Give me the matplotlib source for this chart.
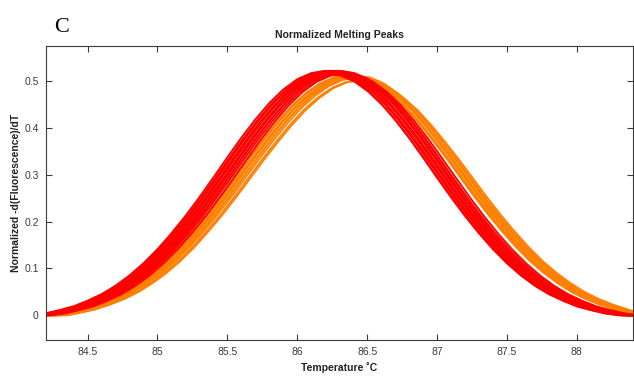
import matplotlib
matplotlib.use("Agg")
import matplotlib.pyplot as plt
import numpy as np

# temperature grid (deg C) shared by both profiles
temps = np.arange(84.0, 88.61, 0.1)

# red group: melting peak shape (peak near 86.3)
red_profile = [0.000, 0.000, 0.000, 0.004, 0.011, 0.019, 0.031, 0.045, 0.063, 0.085,
               0.111, 0.141, 0.175, 0.212, 0.252, 0.294, 0.337, 0.379, 0.418, 0.453,
               0.482, 0.504, 0.517, 0.522, 0.517, 0.504, 0.482, 0.453, 0.418, 0.379,
               0.337, 0.294, 0.252, 0.212, 0.175, 0.141, 0.111, 0.085, 0.063, 0.045,
               0.031, 0.019, 0.011, 0.004, 0.000, 0.000, 0.000]

# orange group: slightly lower, later peak (near 86.4)
orange_profile = [0.000, 0.000, 0.000, 0.000, 0.006, 0.013, 0.023, 0.035, 0.050, 0.069,
                  0.091, 0.117, 0.147, 0.181, 0.217, 0.256, 0.297, 0.338, 0.377, 0.414,
                  0.447, 0.474, 0.495, 0.508, 0.512, 0.508, 0.495, 0.474, 0.447, 0.414,
                  0.377, 0.338, 0.297, 0.256, 0.217, 0.181, 0.147, 0.117, 0.091, 0.069,
                  0.050, 0.035, 0.023, 0.013, 0.004, 0.000, 0.000]

# per-sample temperature offsets and height factors
red_shifts = [-0.12, -0.11, -0.10, -0.09, -0.08, -0.07, -0.06, -0.05, -0.04, -0.03, -0.02, -0.01, 0.00, 0.02]
red_scales = [1.00, 0.99, 1.00, 1.00, 0.99, 1.00, 1.00, 0.99, 1.00, 1.00, 0.99, 1.00, 0.99, 0.99]
orange_shifts = [-0.05, -0.04, -0.03, -0.02, -0.01, 0.00, 0.01, 0.02, 0.035, 0.05]
orange_scales = [1.00, 1.00, 0.99, 1.00, 1.00, 0.99, 1.00, 0.99, 0.98, 0.98]

red_c = "#ff0000"
orange_c = "#ff8000"
grey = "#3a3a3a"

plt.rcParams['font.family'] = ['Liberation Sans', 'DejaVu Sans']

fig = plt.figure(figsize=(6.34, 3.77), dpi=100)
ax = fig.add_axes([0.072, 0.098, 0.926, 0.780])

op = np.array(orange_profile)
for s, k in zip(orange_shifts, orange_scales):
    ax.plot(temps + s + 0.01, op * k, color=orange_c, lw=1.3, solid_capstyle='round')

rp = np.array(red_profile)
for s, k in zip(red_shifts, red_scales):
    ax.plot(temps + s + 0.02, rp * k, color=red_c, lw=1.4, solid_capstyle='round')

ax.set_xlim(84.2, 88.4)
ax.set_ylim(-0.053, 0.575)
ax.set_xticks([84.5, 85, 85.5, 86, 86.5, 87, 87.5, 88])
ax.set_xticklabels(["84.5", "85", "85.5", "86", "86.5", "87", "87.5", "88"])
ax.set_yticks([0, 0.1, 0.2, 0.3, 0.4, 0.5])
ax.set_yticklabels(["0", "0.1", "0.2", "0.3", "0.4", "0.5"])
ax.tick_params(direction='in', top=True, right=True, length=4, width=0.8,
               labelsize=7.5, labelcolor=grey, color=grey, pad=5)
for sp in ax.spines.values():
    sp.set_color(grey)
    sp.set_linewidth(0.8)

ax.set_title("Normalized Melting Peaks", fontsize=7.5, fontweight='bold', color="#222222", pad=6)
ax.set_xlabel("Temperature \u02daC", fontsize=7.5, fontweight='bold', color="#222222", labelpad=4)
ax.set_ylabel("Normalized -d(Fluorescence)/dT", fontsize=7.5, fontweight='bold', color="#222222", labelpad=2)

fig.text(0.085, 0.928, "C", fontsize=16, family=['Liberation Serif', 'DejaVu Serif'], ha='left', va='center')

fig.savefig("out.png", dpi=100)
